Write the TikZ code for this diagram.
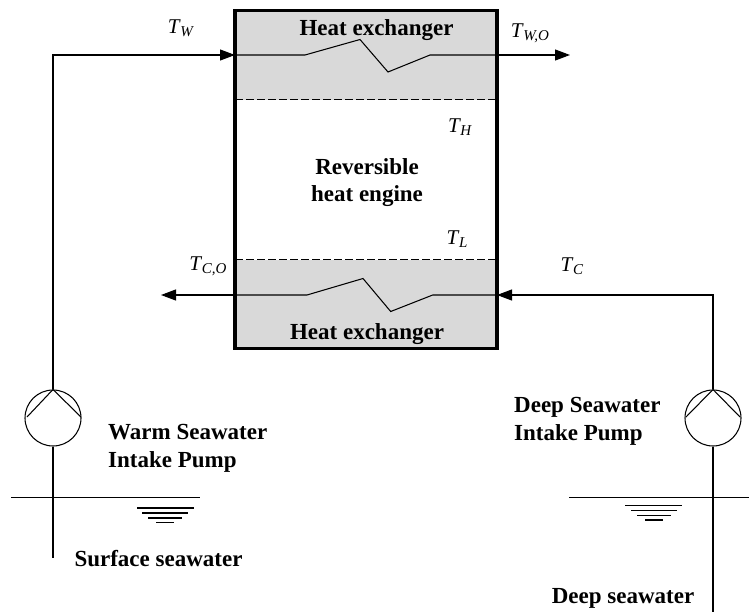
\documentclass[tikz,border=0pt]{standalone}
\usepackage{fontspec}
\setmainfont{Liberation Serif}
\usetikzlibrary{arrows.meta}
\newcommand{\Tsb}[1]{\textit{T}\kern-0.5pt\raisebox{-0.28ex}{\fontsize{15}{15}\selectfont\textit{#1}}}
\tikzset{
  x=1pt,y=-1pt,
  pipe/.style={line width=1.05pt,black},
  flow/.style={pipe,-{Triangle[length=15pt,width=11pt]}},
  divider/.style={line width=1.05pt,black,dash pattern=on 7.5pt off 3.5pt},
  pumpbody/.style={circle,draw=black,line width=1.05pt,minimum size=56pt,inner sep=0pt,fill=white},
  boldlabel/.style={font=\fontsize{23}{27.5}\selectfont\bfseries,inner sep=0pt,align=left},
  templabel/.style={font=\fontsize{21}{22}\selectfont,inner sep=0pt},
}
\begin{document}
\begin{tikzpicture}
\useasboundingbox (0,0) rectangle (749,613);
% heat exchanger fills
\fill[fill=black!15] (235,10.5) rectangle (497,99.5);
\fill[fill=black!15] (235,259.5) rectangle (497,348.5);
% named points
\coordinate (wi) at (235,55);
\coordinate (wo) at (497,55);
\coordinate (woend) at (570,55);
\coordinate (ci) at (497,295);
\coordinate (co) at (235,295);
\coordinate (coend) at (161,295);
\coordinate (wcorner) at (53,55);
\coordinate (ccorner) at (713,295);
\coordinate (wbot) at (53,558);
\coordinate (cbot) at (713,612);
\coordinate (h1) at (235,99.5); \coordinate (h2) at (497,99.5);
\coordinate (l1) at (235,259.5); \coordinate (l2) at (497,259.5);
% dividers
\draw[divider] (h1) -- (h2);
\draw[divider] (l1) -- (l2);
% pumps
\node[pumpbody] (pw) at (53,418) {};
\node[pumpbody] (pc) at (713,418) {};
\draw[pipe] (27,417) -- (pw.north) -- (81,417);
\draw[pipe] (686,417) -- (pc.north) -- (740,417);
% warm pipe
\draw[flow] (pw.north) -- (wcorner) -- (wi);
\draw[pipe] (pw.south) -- (wbot);
% cold pipe
\draw[flow] (pc.north) -- (ccorner) -- (ci);
\draw[pipe] (pc.south) -- (cbot);
% coils
\draw[pipe] (wi) -- (305,55) -- (360,39.5) -- (388,72) -- (430,55) -- (wo);
\draw[flow] (wo) -- (woend);
\draw[pipe] (ci) -- (432.7,295) -- (390.7,311.5) -- (363,278.5) -- (307,295) -- (co);
\draw[flow] (co) -- (coend);
% box
\node[draw=black,line width=3.5pt,minimum width=262pt,minimum height=338pt,inner sep=0pt] (box) at (366,179.5) {};
% water levels
\coordinate (sl1) at (11,497.7); \coordinate (sl2) at (200,497.7);
\coordinate (dl1) at (569,497.7); \coordinate (dl2) at (749,497.7);
\draw[pipe] (sl1) -- (sl2);
\draw[pipe] (dl1) -- (dl2);
\draw[pipe] (137,508) -- (194,508) (142,513) -- (188,513) (148,518) -- (182,518) (156,522.7) -- (174,522.7);
\draw[pipe] (625,505.7) -- (682,505.7) (631,510.7) -- (677,510.7) (637,515.3) -- (671,515.3) (645,520) -- (663,520);
% labels
\node[boldlabel] (hx1) at (376.5,30) {Heat exchanger};
\node[boldlabel] (hx2) at (367,334.5) {Heat exchanger};
\node[boldlabel,align=center] (rhe) at (367,182.5) {Reversible\\heat engine};
\node[boldlabel,anchor=west] (wp) at (108,448.5) {Warm Seawater\\Intake Pump};
\node[boldlabel,anchor=west] (dp) at (514,421.5) {Deep Seawater\\Intake Pump};
\node[boldlabel] (ss) at (158.5,559) {Surface seawater};
\node[boldlabel] (ds) at (623,598) {Deep seawater};
\node[templabel] (tw) at (181,28) {\Tsb{W}};
\node[templabel] (two) at (530,33) {\Tsb{W,O}};
\node[templabel] (th) at (460,127) {\Tsb{H}};
\node[templabel] (tl) at (457,239) {\Tsb{L}};
\node[templabel] (tco) at (208,266) {\Tsb{C,O}};
\node[templabel] (tc) at (572,266) {\Tsb{C}};
\end{tikzpicture}
\end{document}
